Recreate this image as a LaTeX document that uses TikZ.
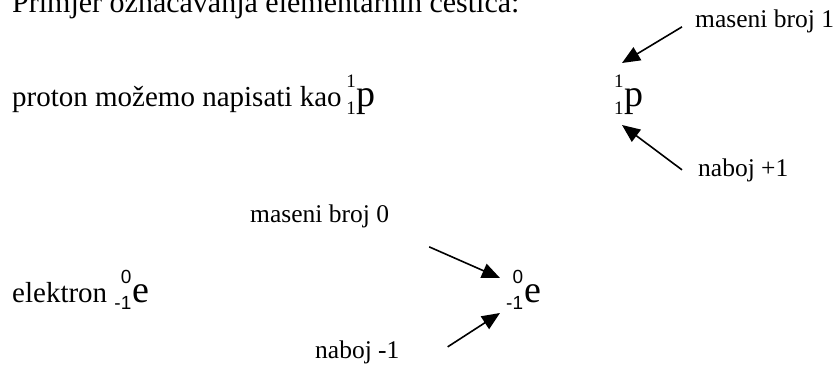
\documentclass[tikz,border=0pt]{standalone}
\usepackage{fontspec}
\setmainfont{Liberation Serif}
\newfontfamily\arialfont{Liberation Sans}
\usetikzlibrary{arrows.meta,positioning}

% nuclide symbol: mass number over charge, then the letter
\newcommand{\nuklid}[4][]{%
  {\fontsize{19}{27}\selectfont#1%
   \raisebox{-8pt}{\begin{tabular}[b]{@{}r@{}}#2\\#3\end{tabular}}}%
  \hspace{1pt}{\fontsize{38}{38}\selectfont#4}}

\begin{document}
\begin{tikzpicture}[
    x=1pt, y=-1pt,
    every node/.style={inner sep=0pt, anchor=base west},
    title/.style={font=\fontsize{30}{36}\selectfont},
    line/.style={font=\fontsize{29}{35}\selectfont},
    label/.style={font=\fontsize{25.5}{30}\selectfont},
    arrow/.style={line width=1.6pt, -{Triangle[length=18pt,width=15pt]}}
]
\useasboundingbox (0,0) rectangle (836,366);

% Heading and the two examples
\node[title] (naslov) at (12,13) {Primjer označavanja elementarnih čestica:};
\node[line] (proton) at (12,107) {proton možemo napisati kao\,\nuklid{1}{1}{p}};
\node[line] (elektron) at (12,302) {elektron \nuklid[\arialfont]{0}{-1}{e}};

% Proton with its labels
\node (psym) at (614,107) {\nuklid{1}{1}{p}};
\node[label] (masa1) at (695,28) {maseni broj 1};
\node[label] (naboj1) at (698,177) {naboj +1};

% Electron with its labels
\node (esym) at (506,302) {\nuklid[\arialfont]{0}{-1}{e}};
\node[label] (masa0) at (250,223) {maseni broj 0};
\node[label] (naboj0) at (315,358) {naboj -1};

% Arrow tips
\coordinate (pgore) at (622,63);
\coordinate (pdolje) at (622,125);
\coordinate (egore) at (500,278);
\coordinate (edolje) at (500,313);

% Connections
\draw[arrow] ([xshift=-13pt,yshift=-5pt]masa1.west) -- (pgore);
\draw[arrow] ([xshift=-16pt,yshift=1pt]naboj1.west) -- (pdolje);
\draw[arrow] ([xshift=40pt,yshift=-30pt]masa0.east) -- (egore);
\draw[arrow] ([xshift=48pt,yshift=5pt]naboj0.east) -- (edolje);

\end{tikzpicture}
\end{document}
